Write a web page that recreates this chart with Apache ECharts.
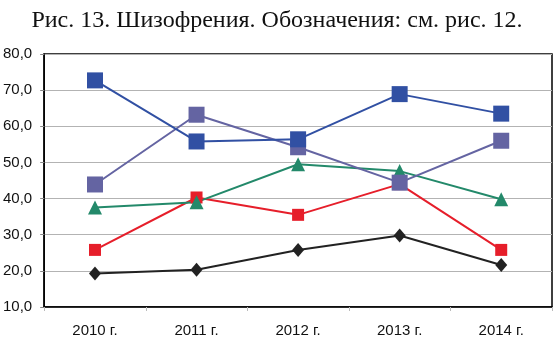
<!DOCTYPE html>
<html>
<head>
<meta charset="utf-8">
<script src="https://cdn.jsdelivr.net/npm/echarts@6/dist/echarts.min.js"></script>
<style>
html,body{margin:0;padding:0;background:#fff;}
#chart{width:554px;height:338px;}
</style>
</head>
<body>
<div id="chart"></div>
<script>
// категории и ряды
var years = ['2010 г.', '2011 г.', '2012 г.', '2013 г.', '2014 г.'];
var blueData = [72.7, 55.8, 56.4, 68.9, 63.5];
var violetData = [43.9, 63.2, 54.2, 44.4, 56.0];
var greenData = [37.5, 39.0, 49.5, 47.6, 39.8];
var redData = [25.8, 40.3, 35.5, 44.0, 25.8];
var blackData = [19.3, 20.3, 25.8, 29.8, 21.6];

var chart = echarts.init(document.getElementById('chart'));

function line(name, data, color, symbol, size){
	return {
		name: name,
		type: 'line',
		data: data,
		symbol: symbol,
		symbolSize: size,
		symbolKeepAspect: true,
		showAllSymbol: true,
		lineStyle: {color: color, width: 2},
		itemStyle: {color: color, borderWidth: 0},
		animation: false
	};
}

var option = {
	backgroundColor: '#fff',
	title: {
		text: 'Рис. 13. Шизофрения. Обозначения: см. рис. 12.',
		left: 'center',
		top: 4,
		textStyle: {fontFamily: 'Liberation Serif', fontSize: 24, fontWeight: 'normal', color: '#111'}
	},
	grid: {left: 43, right: 2, top: 54, bottom: 30, show: true, borderColor: '#000', borderWidth: 1.5},
	xAxis: {
		type: 'category',
		data: years,
		boundaryGap: true,
		axisLine: {lineStyle: {color: '#000', width: 1.5}},
		axisTick: {show: true, length: 4, lineStyle: {color: '#bbb'}},
		axisLabel: {fontFamily: 'Liberation Sans', fontSize: 15, color: '#111', margin: 16}
	},
	yAxis: {
		type: 'value',
		min: 10,
		max: 80,
		interval: 10,
		axisLine: {show: true, lineStyle: {color: '#000', width: 1.5}},
		axisTick: {show: true, length: 4, lineStyle: {color: '#888'}},
		splitLine: {lineStyle: {color: '#b3b3b3', width: 1}},
		axisLabel: {
			fontFamily: 'Liberation Sans', fontSize: 15, color: '#111', margin: 12,
			formatter: function(v){ return v.toFixed(1).replace('.', ','); }
		}
	},
	series: [
		line('black', blackData, '#222222', 'diamond', [12, 14]),
		line('red', redData, '#e61e2a', 'rect', 12),
		line('green', greenData, '#23896a', 'triangle', 14),
		line('violet', violetData, '#6464a2', 'rect', 16),
		line('blue', blueData, '#3150a3', 'rect', 16)
	]
};
chart.setOption(option);
</script>
</body>
</html>
